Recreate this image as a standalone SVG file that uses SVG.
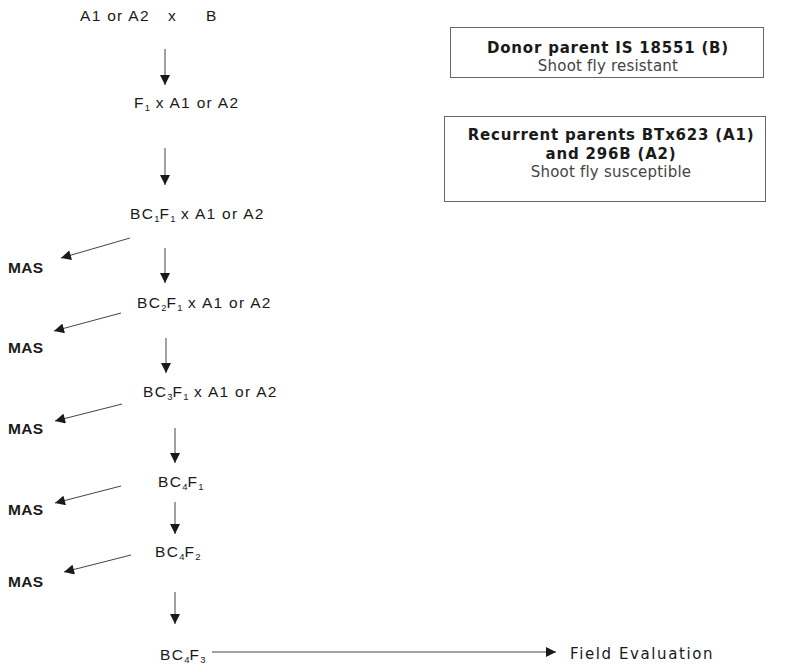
<svg xmlns="http://www.w3.org/2000/svg" width="795" height="667" viewBox="0 0 795 667">
<style>
.l{font-family:"Liberation Sans",Arial,sans-serif;font-size:15.5px;fill:#1a1a1a;letter-spacing:1.3px}
.b{font-weight:bold;letter-spacing:0.3px}
.v{font-family:"DejaVu Sans",Verdana,sans-serif;fill:#1a1a1a}
.vb{font-size:15px;font-weight:bold;letter-spacing:0.8px}
.vn{font-size:15px;fill:#444;letter-spacing:0.2px}
.s{font-size:9.5px;letter-spacing:0}
.c{stroke:#444;stroke-width:1;fill:none;marker-end:url(#ah)}
.box{fill:#fff;stroke:#666;stroke-width:1}
</style>
<defs>
<marker id="ah" viewBox="0 0 10 10" refX="10" refY="5" markerWidth="11" markerHeight="10" markerUnits="userSpaceOnUse" orient="auto">
<path d="M0,0 L10,5 L0,10 Z" fill="#1a1a1a"/>
</marker>
</defs>
<rect width="795" height="667" fill="#fff"/>
<g id="connectors">
<line class="c" x1="165" y1="49" x2="165" y2="85"/>
<line class="c" x1="165" y1="148" x2="165" y2="185"/>
<line class="c" x1="165" y1="248" x2="165" y2="283"/>
<line class="c" x1="166" y1="338" x2="166" y2="373"/>
<line class="c" x1="175" y1="428" x2="175" y2="463"/>
<line class="c" x1="175" y1="502" x2="175" y2="534"/>
<line class="c" x1="175" y1="592" x2="175" y2="624"/>
<line class="c" x1="130" y1="238" x2="61" y2="258"/>
<line class="c" x1="121" y1="313" x2="54" y2="331"/>
<line class="c" x1="122" y1="404" x2="55" y2="421"/>
<line class="c" x1="121" y1="486" x2="55" y2="503"/>
<line class="c" x1="131" y1="555" x2="64" y2="572"/>
<line class="c" x1="212" y1="652" x2="556" y2="652"/>
</g>
<g id="n-cross"><text class="l" x="80" y="21">A1 or A2</text><text class="l" x="168" y="21">x</text><text class="l" x="206" y="21">B</text></g>
<g id="n-f1"><text class="l" x="134" y="108">F<tspan class="s" dy="3">1</tspan><tspan dy="-3"> x A1 or A2</tspan></text></g>
<g id="n-bc1"><text class="l" x="130" y="219">BC<tspan class="s" dy="3">1</tspan><tspan dy="-3">F</tspan><tspan class="s" dy="3">1</tspan><tspan dy="-3"> x A1 or A2</tspan></text></g>
<g id="n-bc2"><text class="l" x="137" y="308">BC<tspan class="s" dy="3">2</tspan><tspan dy="-3">F</tspan><tspan class="s" dy="3">1</tspan><tspan dy="-3"> x A1 or A2</tspan></text></g>
<g id="n-bc3"><text class="l" x="143" y="397">BC<tspan class="s" dy="3">3</tspan><tspan dy="-3">F</tspan><tspan class="s" dy="3">1</tspan><tspan dy="-3"> x A1 or A2</tspan></text></g>
<g id="n-bc4f1"><text class="l" x="158" y="487">BC<tspan class="s" dy="3">4</tspan><tspan dy="-3">F</tspan><tspan class="s" dy="3">1</tspan></text></g>
<g id="n-bc4f2"><text class="l" x="155" y="557">BC<tspan class="s" dy="3">4</tspan><tspan dy="-3">F</tspan><tspan class="s" dy="3">2</tspan></text></g>
<g id="n-bc4f3"><text class="l" x="160" y="660">BC<tspan class="s" dy="3">4</tspan><tspan dy="-3">F</tspan><tspan class="s" dy="3">3</tspan></text></g>
<g id="n-mas1"><text class="l b" x="8" y="273">MAS</text></g>
<g id="n-mas2"><text class="l b" x="8" y="353">MAS</text></g>
<g id="n-mas3"><text class="l b" x="8" y="434">MAS</text></g>
<g id="n-mas4"><text class="l b" x="8" y="515">MAS</text></g>
<g id="n-mas5"><text class="l b" x="8" y="587">MAS</text></g>
<g id="n-field"><text class="v" x="570" y="659" font-size="15" letter-spacing="1.6">Field Evaluation</text></g>
<g id="n-donor">
<rect class="box" x="450.5" y="27.5" width="313" height="50"/>
<text class="v vb" x="608" y="53" text-anchor="middle">Donor parent IS 18551 (B)</text>
<text class="v vn" x="608" y="71" text-anchor="middle">Shoot fly resistant</text>
</g>
<g id="n-recurrent">
<rect class="box" x="444.5" y="116.5" width="321" height="85"/>
<text class="v vb" x="611" y="140" text-anchor="middle">Recurrent parents BTx623 (A1)</text>
<text class="v vb" x="611" y="159" text-anchor="middle">and 296B (A2)</text>
<text class="v vn" x="611" y="177" text-anchor="middle">Shoot fly susceptible</text>
</g>
</svg>
